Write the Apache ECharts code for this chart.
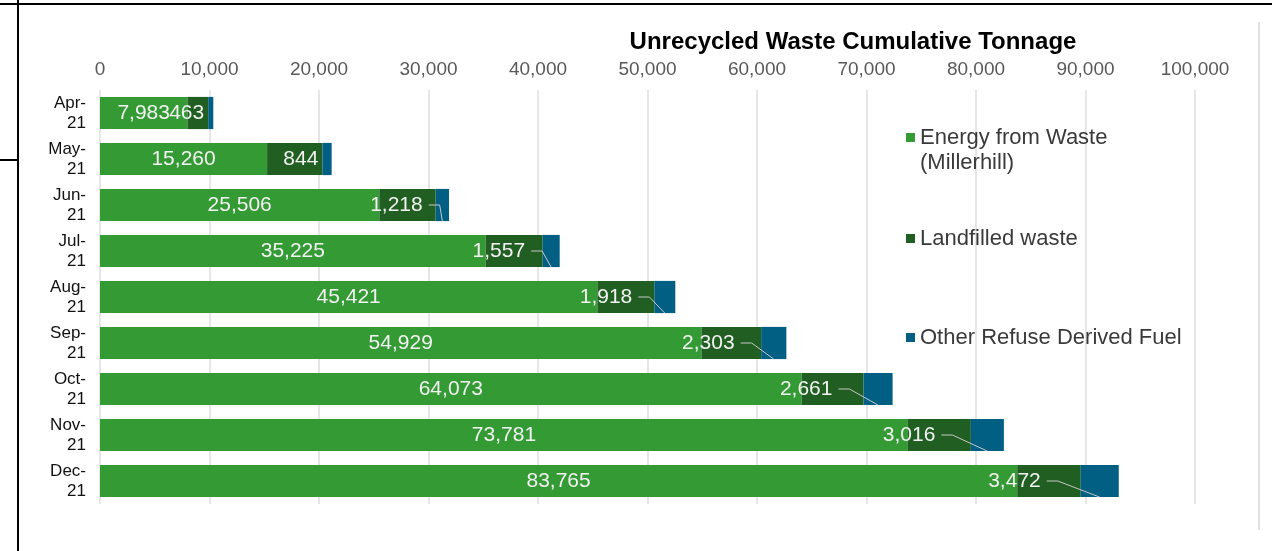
<!DOCTYPE html>
<html>
<head>
<meta charset="utf-8">
<script src="https://cdn.jsdelivr.net/npm/echarts@6/dist/echarts.min.js"></script>
<style>
  html, body { margin: 0; padding: 0; background: #fff; }
  #chart { width: 1272px; height: 551px; }
</style>
</head>
<body>
<div id="chart"></div>
<script>
// values (cumulative tonnes)
const months = ['Apr-21', 'May-21', 'Jun-21', 'Jul-21', 'Aug-21', 'Sep-21', 'Oct-21', 'Nov-21', 'Dec-21'];
const energyFromWaste = [7983, 15260, 25506, 35225, 45421, 54929, 64073, 73781, 83765];
const landfilled = [1900, 5050, 5150, 5200, 5200, 5450, 5650, 5750, 5800];
const otherRdf = [463, 844, 1218, 1557, 1918, 2303, 2661, 3016, 3472];
const seriesNames = ['Energy from Waste\n(Millerhill)', 'Landfilled waste', 'Other Refuse Derived Fuel'];

const FONT = 'Liberation Sans, Arial, sans-serif';
const LABEL_COLOR = '#f2f2f2';
const fmt = v => Number(v).toLocaleString('en-US');
// how far the RDF label is pushed left of its segment (grows down the chart, like the original)
const rdfShift = i => (i < 2 ? 0 : 4.5 * i);

const chart = echarts.init(document.getElementById('chart'));

const legendText = { fontFamily: FONT, fontSize: 22, color: '#3a3a3a', lineHeight: 25 };

const option = {
  animation: false,
  title: {
    text: 'Unrecycled Waste Cumulative Tonnage',
    left: 848, top: 25, textAlign: 'center',
    textStyle: { fontFamily: FONT, fontSize: 24, fontWeight: 'bold', color: '#000' }
  },
  legend: [
    {
      // two-line entry: tall icon box with the square at the first line
      orient: 'vertical', left: 906, top: 125, padding: 0,
      itemWidth: 9, itemHeight: 50,
      icon: 'path://M0,0L0.01,0L0.01,0.01Z M0,8h9v9h-9z M0,50L0.01,50L0.01,49.99Z',
      textStyle: legendText,
      data: [seriesNames[0]]
    },
    {
      orient: 'vertical', left: 906, top: 226, padding: 0,
      itemWidth: 9, itemHeight: 9, icon: 'rect',
      textStyle: legendText, data: [seriesNames[1]]
    },
    {
      orient: 'vertical', left: 906, top: 325, padding: 0,
      itemWidth: 9, itemHeight: 9, icon: 'rect',
      textStyle: legendText, data: [seriesNames[2]]
    }
  ],
  grid: { left: 100, right: 77, top: 90, bottom: 47 },
  xAxis: {
    type: 'value', position: 'top',
    min: 0, max: 100000, interval: 10000,
    axisLine: { show: false }, axisTick: { show: false },
    splitLine: { lineStyle: { color: '#dedede', width: 1.5 } },
    axisLabel: { margin: 11, fontFamily: FONT, fontSize: 19, color: '#595959', formatter: fmt }
  },
  yAxis: {
    type: 'category', data: months, inverse: true,
    axisLine: { show: false }, axisTick: { show: false },
    axisLabel: {
      margin: 14, fontFamily: FONT, fontSize: 17, lineHeight: 20, color: '#111',
      formatter: v => v.replace('-', '-\n')
    }
  },
  series: [
    {
      name: seriesNames[0], type: 'bar', stack: 'waste', data: energyFromWaste,
      barCategoryGap: '30%',
      itemStyle: { color: '#349a34' },
      label: {
        show: true, position: 'inside',
        fontFamily: FONT, fontSize: 21, color: LABEL_COLOR, formatter: p => fmt(p.value)
      }
    },
    {
      name: seriesNames[1], type: 'bar', stack: 'waste', data: landfilled,
      itemStyle: { color: '#215e21' }
    },
    {
      name: seriesNames[2], type: 'bar', stack: 'waste', data: otherRdf,
      itemStyle: { color: '#005f82' },
      label: {
        show: true, position: 'left', distance: 4,
        fontFamily: FONT, fontSize: 21, color: LABEL_COLOR, formatter: p => fmt(p.value)
      },
      labelLayout: p => ({ dx: -rdfShift(p.dataIndex) })
    }
  ],
  graphic: [
    { type: 'line', shape: { x1: 0, y1: 4, x2: 1272, y2: 4 }, style: { stroke: '#000', lineWidth: 2 } },
    { type: 'line', shape: { x1: 18, y1: 0, x2: 18, y2: 551 }, style: { stroke: '#000', lineWidth: 2 } },
    { type: 'line', shape: { x1: 0, y1: 160, x2: 18, y2: 160 }, style: { stroke: '#000', lineWidth: 2 } },
    { type: 'line', shape: { x1: 1259, y1: 22, x2: 1259, y2: 530 }, style: { stroke: '#d6d6d6', lineWidth: 1.5 } }
  ]
};

chart.setOption(option);

// leader lines from the moved RDF labels to their segments, placed with the chart's own scales
const halfBar = (chart.convertToPixel({ gridIndex: 0 }, [0, 1])[1] - chart.convertToPixel({ gridIndex: 0 }, [0, 0])[1]) * 0.7 / 2;
const leaders = [];
otherRdf.forEach((v, i) => {
  if (i < 2) return;
  const start = energyFromWaste[i] + landfilled[i];
  const p0 = chart.convertToPixel({ gridIndex: 0 }, [start, i]);
  const p1 = chart.convertToPixel({ gridIndex: 0 }, [start + v, i]);
  const x0 = p0[0] - rdfShift(i) + 2;
  leaders.push({
    type: 'polyline', z: 100, silent: true,
    shape: { points: [[x0, p0[1]], [x0 + 11, p0[1]], [(p0[0] + p1[0]) / 2, p0[1] + halfBar]] },
    style: { stroke: '#c8c8c8', lineWidth: 1, fill: null }
  });
});
chart.setOption({ graphic: option.graphic.concat(leaders) });
</script>
</body>
</html>
